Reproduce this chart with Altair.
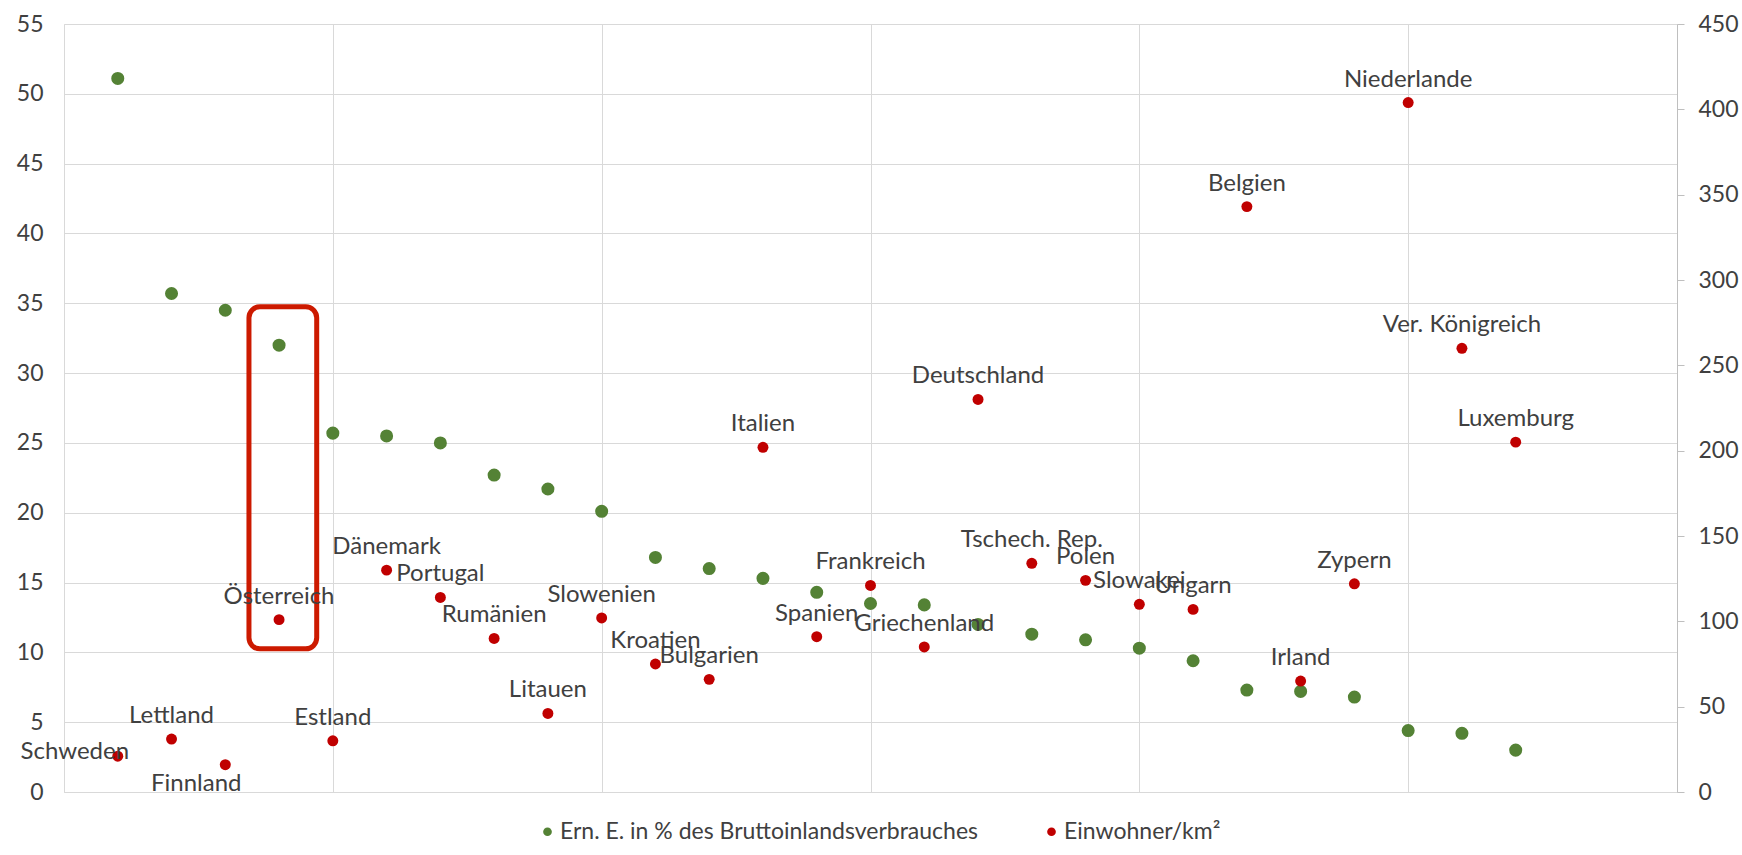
import altair as alt
import pandas as pd

# ---------------- data ----------------
countries = [
    "Schweden", "Lettland", "Finnland", "Österreich", "Estland", "Dänemark",
    "Portugal", "Rumänien", "Litauen", "Slowenien", "Kroatien", "Bulgarien",
    "Italien", "Spanien", "Frankreich", "Griechenland", "Deutschland",
    "Tschech. Rep.", "Polen", "Slowakei", "Ungarn", "Belgien", "Irland",
    "Zypern", "Niederlande", "Ver. Königreich", "Luxemburg",
]
# Erneuerbare Energie in % des Bruttoinlandsverbrauches (left axis)
renewable_share = [
    51.1, 35.7, 34.5, 32.0, 25.7, 25.5, 25.0, 22.7, 21.7, 20.1, 16.8, 16.0,
    15.3, 14.3, 13.5, 13.4, 12.0, 11.3, 10.9, 10.3, 9.4, 7.3, 7.2, 6.8,
    4.4, 4.2, 3.0,
]
# Einwohner je km² (right axis)
density = [
    21, 31, 16, 101, 30, 130, 114, 90, 46, 102, 75, 66, 202, 91, 121, 85,
    230, 134, 124, 110, 107, 343, 65, 122, 404, 260, 205,
]
series_names = ["Ern. E. in % des Bruttoinlandsverbrauches", "Einwohner/km²"]
left_axis_ticks = list(range(0, 56, 5))
right_axis_ticks = list(range(0, 451, 50))
x_grid = list(range(0, 31, 5))

# label placement exceptions
labels_left = ["Schweden"]
labels_below = ["Finnland"]

# highlight box around Österreich (data units: rank / left axis)
box_x = [3.44, 4.70]
box_y = [10.25, 34.75]

# ---------------- styles ----------------
GREEN = "#548235"
RED = "#C00000"
BOX_RED = "#CC1A00"
GRID = "#D9D9D9"
TEXT = "#404040"
FONT = "Lato"

df = pd.DataFrame({
    "country": countries,
    "rank": list(range(1, len(countries) + 1)),
    "share": renewable_share,
    "density": density,
})
box_df = pd.DataFrame({"x": [box_x[0]], "x2": [box_x[1]], "y": [box_y[0]], "y2": [box_y[1]]})

x_scale = alt.Scale(domain=[0, 30], nice=False, zero=False)
x_axis = alt.Axis(values=x_grid, labels=False, ticks=False, title=None, grid=True,
                  gridColor=GRID, domainColor=GRID)
yl_scale = alt.Scale(domain=[0, 55], nice=False)
yl_axis = alt.Axis(values=left_axis_ticks, title=None, grid=True, gridColor=GRID,
                   ticks=False, tickSize=0, labelPadding=21, domainColor=GRID)
yr_scale = alt.Scale(domain=[0, 450], nice=False)
yr_axis = alt.Axis(orient="right", values=right_axis_ticks, title=None, grid=False,
                   ticks=True, tickSize=7, tickColor="#BFBFBF", labelPadding=14,
                   domainColor="#BFBFBF")
color_scale = alt.Scale(domain=series_names, range=[GREEN, RED])
legend = alt.Legend(orient="none", legendX=472, legendY=796, direction="horizontal",
                    title=None, symbolSize=75, symbolType="circle", labelFontSize=23,
                    labelFont=FONT, labelColor=TEXT, labelOffset=1, columnPadding=61,
                    padding=0, symbolStrokeWidth=0, labelLimit=0)

green = alt.Chart(df).mark_circle(size=170, opacity=1).transform_calculate(
    series=f"'{series_names[0]}'"
).encode(
    x=alt.X("rank:Q", scale=x_scale, axis=x_axis),
    y=alt.Y("share:Q", scale=yl_scale, axis=yl_axis),
    color=alt.Color("series:N", scale=color_scale, legend=legend),
)

box = alt.Chart(box_df).mark_rect(
    fillOpacity=0, stroke=BOX_RED, strokeWidth=5, cornerRadius=11
).encode(
    x=alt.X("x:Q", scale=x_scale, axis=x_axis),
    x2="x2:Q",
    y=alt.Y("y:Q", scale=yl_scale, axis=yl_axis),
    y2="y2:Q",
)

red = alt.Chart(df).mark_circle(size=120, opacity=1).transform_calculate(
    series=f"'{series_names[1]}'"
).encode(
    x=alt.X("rank:Q", scale=x_scale, axis=x_axis),
    y=alt.Y("density:Q", scale=yr_scale, axis=yr_axis),
    color=alt.Color("series:N", scale=color_scale, legend=legend),
)

special = labels_left + labels_below
text_kw = dict(font=FONT, fontSize=24, color=TEXT, baseline="alphabetic")

labels_above = alt.Chart(df).transform_filter(
    ~alt.FieldOneOfPredicate(field="country", oneOf=special)
).mark_text(align="center", dy=-16, **text_kw).encode(
    x=alt.X("rank:Q", scale=x_scale, axis=x_axis),
    y=alt.Y("density:Q", scale=yr_scale, axis=yr_axis),
    text="country:N",
)
label_left = alt.Chart(df).transform_filter(
    alt.FieldOneOfPredicate(field="country", oneOf=labels_left)
).mark_text(align="center", dx=-43, dy=3, **text_kw).encode(
    x=alt.X("rank:Q", scale=x_scale, axis=x_axis),
    y=alt.Y("density:Q", scale=yr_scale, axis=yr_axis),
    text="country:N",
)
label_below = alt.Chart(df).transform_filter(
    alt.FieldOneOfPredicate(field="country", oneOf=labels_below)
).mark_text(align="center", dx=-29, dy=26, **text_kw).encode(
    x=alt.X("rank:Q", scale=x_scale, axis=x_axis),
    y=alt.Y("density:Q", scale=yr_scale, axis=yr_axis),
    text="country:N",
)

chart = alt.layer(
    alt.layer(green, box),
    alt.layer(red, labels_above, label_left, label_below),
).resolve_scale(y="independent").properties(
    width=1613,
    height=768,
    padding={"left": 64, "top": 24, "right": 65, "bottom": 63},
    autosize=alt.AutoSizeParams(type="none"),
    background="white",
).configure_axis(
    labelFont=FONT, labelFontSize=23, labelColor=TEXT, gridWidth=1,
).configure_legend(
    labelFont=FONT, labelFontSize=23, labelColor=TEXT, labelLimit=0,
    symbolSize=75, labelOffset=1, columnPadding=61,
).configure_view(stroke=None)

chart.save("out.html", embed_options={"renderer": "svg", "actions": False})
